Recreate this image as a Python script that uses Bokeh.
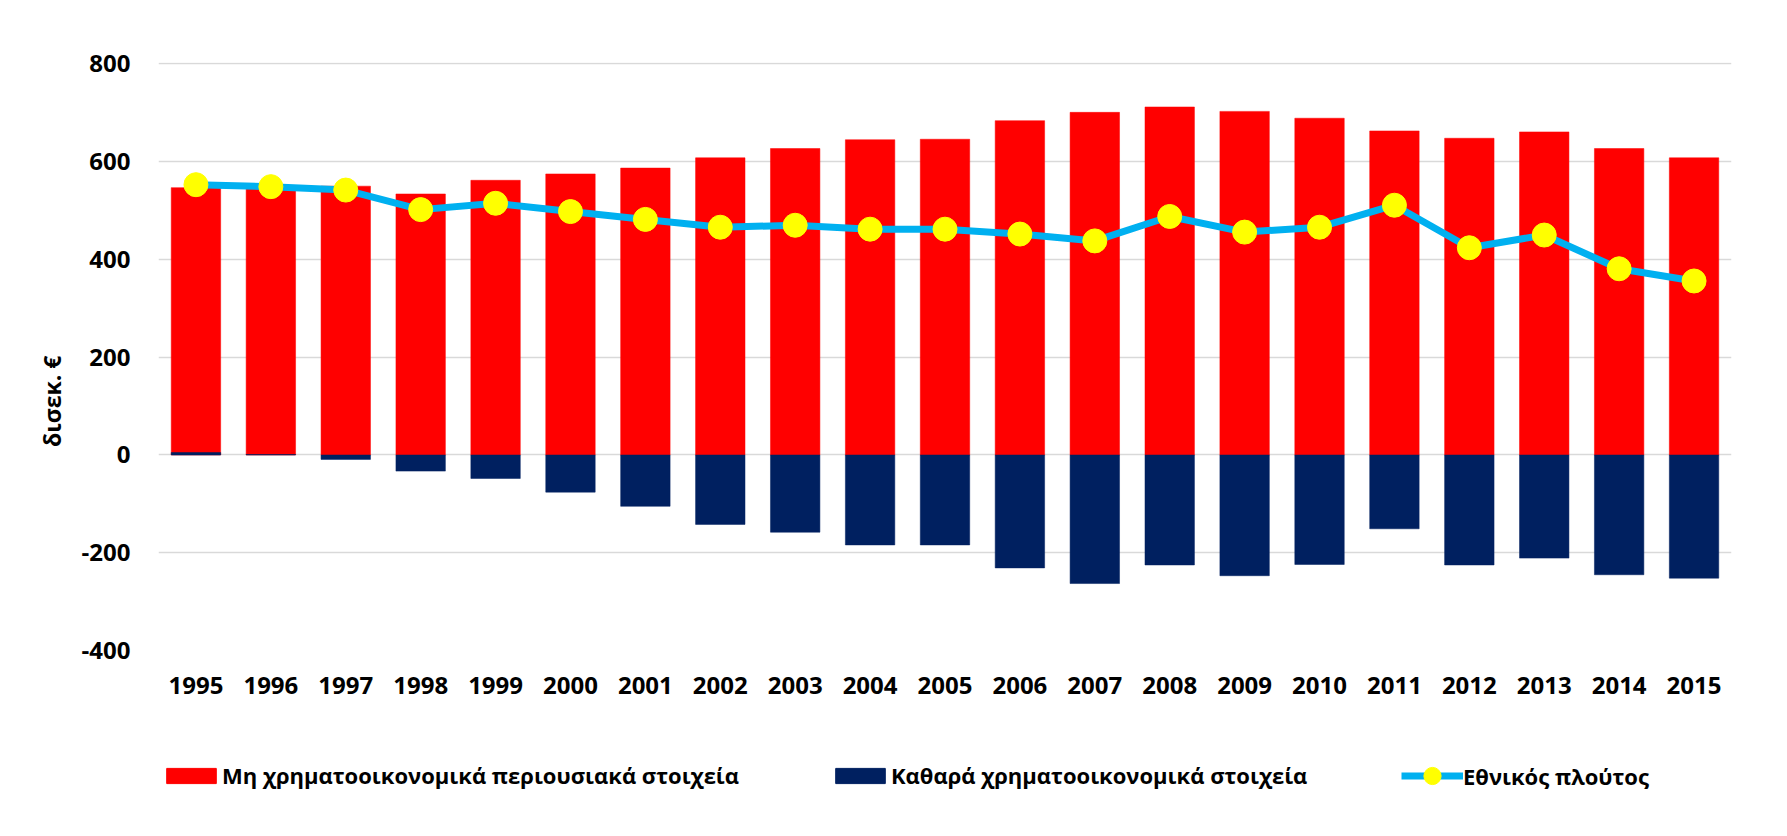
from bokeh.plotting import figure
from bokeh.models import Range1d, FactorRange, Legend, LegendItem, Label
from bokeh.layouts import row, column
from bokeh.embed import file_html
from bokeh.resources import INLINE
import math

years = ["1995", "1996", "1997", "1998", "1999", "2000", "2001", "2002", "2003", "2004",
         "2005", "2006", "2007", "2008", "2009", "2010", "2011", "2012", "2013", "2014", "2015"]
non_financial = [547, 548, 550, 534, 562, 575, 587, 608, 627, 645, 646, 684, 701, 712, 703,
                 689, 663, 648, 661, 627, 608]
net_financial = [5, 1, -9, -33, -48, -76, -105, -142, -158, -184, -184, -231, -263, -225, -247,
                 -224, -151, -225, -211, -245, -252]
national_wealth = [553, 549, 542, 502, 515, 498, 482, 466, 470, 462, 462, 452, 438, 488, 456,
                   466, 511, 424, 450, 381, 356]
y_ticks = [-400, -200, 0, 200, 400, 600, 800]

series_names = ["Μη χρηματοοικονομικά περιουσιακά στοιχεία",
                "Καθαρά χρηματοοικονομικά στοιχεία",
                "Εθνικός πλούτος"]
y_title = "δισεκ. €"

FONT = "Open Sans"
RED, NAVY, CYAN, YELLOW = "#FF0000", "#002060", "#00B0F0", "#FFFF00"

# ---- main chart ----
yr = Range1d(-400, 803)
p = figure(x_range=FactorRange(*years), y_range=yr,
           width=1709, height=720, output_backend="svg", toolbar_location=None,
           min_border_left=88, min_border_right=48, min_border_top=62, min_border_bottom=70)
p.outline_line_color = None

r1 = p.vbar(x=years, top=non_financial, bottom=0, width=0.66, fill_color=RED, line_color=RED,
            line_width=0.5)
r2 = p.vbar(x=years, top=net_financial, bottom=0, width=0.66, fill_color=NAVY, line_color=NAVY,
            line_width=0.5)
r3 = p.line(x=years, y=national_wealth, line_color=CYAN, line_width=7)
r4 = p.scatter(x=years, y=national_wealth, size=24, fill_color=YELLOW, line_color=YELLOW)

p.xgrid.grid_line_color = None
p.ygrid.grid_line_color = "#D9D9D9"
p.ygrid.grid_line_width = 1.5
p.yaxis.ticker = y_ticks
p.yaxis.major_label_overrides = {t: str(t) for t in y_ticks}

for ax in (p.xaxis[0], p.yaxis[0]):
    ax.axis_line_color = None
    ax.major_tick_line_color = None
    ax.minor_tick_line_color = None
    ax.major_label_text_font = FONT
    ax.major_label_text_font_style = "bold"
    ax.major_label_text_font_size = "24px"
    ax.major_label_text_color = "black"
p.yaxis.major_label_standoff = 22
p.xaxis.major_label_standoff = 20

# ---- y-axis title panel (shares the y scale of the chart) ----
pl = figure(width=70, height=720, x_range=Range1d(0, 1), y_range=yr,
            x_axis_type=None, y_axis_type=None, output_backend="svg", toolbar_location=None,
            min_border_left=0, min_border_right=0, min_border_top=62, min_border_bottom=70)
pl.outline_line_color = None
pl.xgrid.visible = False
pl.ygrid.visible = False
pl.add_layout(Label(x=51, y=110, x_units="screen", y_units="data", text=y_title,
                    angle=math.pi / 2, text_font=FONT, text_font_style="bold",
                    text_font_size="23px", text_align="center", text_baseline="middle",
                    text_color="black"))

# ---- legend panel (series drawn off-range, only their legend swatches show) ----
pg = figure(width=1779, height=108, x_range=FactorRange(*years), y_range=Range1d(5000, 6000),
            x_axis_type=None, y_axis_type=None, output_backend="svg", toolbar_location=None,
            min_border=0)
pg.outline_line_color = None
pg.xgrid.visible = False
pg.ygrid.visible = False
e1 = pg.vbar(x=years, top=non_financial, width=0.66, fill_color=RED, line_color=RED)
e2 = pg.vbar(x=years, top=net_financial, width=0.66, fill_color=NAVY, line_color=NAVY)
e3 = pg.line(x=years, y=national_wealth, line_color=CYAN, line_width=7)
e4 = pg.scatter(x=years, y=national_wealth, size=17, fill_color=YELLOW, line_color=YELLOW)

legend_specs = [(series_names[0], [e1], 160, 38, 19), (series_names[1], [e2], 829, 38, 19),
                (series_names[2], [e3, e4], 1401, 31, 43)]
for name, rends, xpos, ypos, gh in legend_specs:
    lg = Legend(items=[LegendItem(label=name, renderers=rends, index=0)], location=(xpos, ypos),
                label_text_font=FONT, label_text_font_style="bold",
                label_text_font_size="22px", label_text_color="black",
                glyph_width=62, glyph_height=gh, label_standoff=0, padding=0, margin=0,
                border_line_alpha=0, background_fill_alpha=0)
    pg.add_layout(lg, "center")

layout = column(row(pl, p), pg)
open("out.html", "w").write(file_html(layout, INLINE))
